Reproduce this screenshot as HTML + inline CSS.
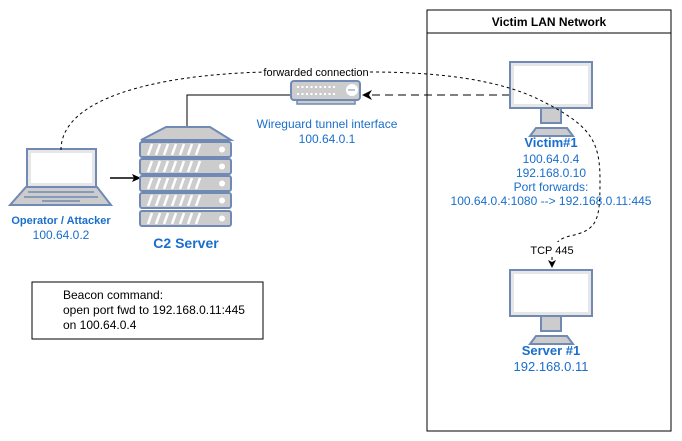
<!DOCTYPE html>
<html><head><meta charset="utf-8"><style>body{margin:0;background:#fff}svg{display:block;font-family:"Liberation Sans",sans-serif}</style></head><body>
<svg width="682" height="441" viewBox="0 0 682 441">
<defs>
<g id="mon"><rect x="0" y="0" width="82" height="46" fill="#e6e6e6" stroke="#7089b5" stroke-width="2"/><rect x="4" y="4" width="74" height="38" fill="#fff"/><rect x="31" y="46" width="20" height="15" fill="#ccc" stroke="#7089b5" stroke-width="2"/><path d="M20 74 L26 66 L57 66 L63 74Z" fill="#ccc" stroke="#7089b5" stroke-width="2"/></g>
<g id="unit"><rect x="0" y="0" width="91" height="15" rx="2" fill="#ccc" stroke="#7089b5" stroke-width="2"/><path d="M8 13 l4 -11 M16 13 l4 -11 M24 13 l4 -11 M32 13 l4 -11 M40 13 l4 -11 M48 13 l4 -11 M56 13 l4 -11" stroke="#fff" stroke-width="2.5"/><circle cx="82" cy="7.5" r="3" fill="#fff"/></g>
</defs>
<rect x="427" y="10" width="244" height="421" fill="#fff" stroke="#000"/>
<line x1="427" y1="33" x2="671" y2="33" stroke="#000"/>
<text x="549" y="26" font-size="12" font-weight="bold" text-anchor="middle">Victim LAN Network</text>
<!-- connectors -->
<path d="M187 128 V95 H290" fill="none" stroke="#000"/>
<path d="M510 95 H368" fill="none" stroke="#000" stroke-dasharray="8 5"/>
<path d="M362 95 l10 -5 l-3 5 l3 5z" fill="#000"/>
<path d="M110 178 H134" stroke="#000" stroke-width="1.5"/><path d="M141 178 l-9 -4 l2 4 l-2 4z" fill="#000"/>
<!-- laptop -->
<rect x="27" y="149" width="69" height="38" fill="#e6e6e6" stroke="#7089b5" stroke-width="2"/><rect x="31" y="153" width="61" height="30" fill="#fff"/>
<path d="M10 205 L26 187 L97 187 L111 205Z" fill="#ccc" stroke="#7089b5" stroke-width="2"/>
<path d="M28 192 H94 M24 197 H98 M42 201 H80" stroke="#7089b5" stroke-width="1.5"/>
<text x="61" y="224" font-size="11" font-weight="bold" fill="#1a6ecc" text-anchor="middle">Operator / Attacker</text>
<text x="61" y="239" font-size="12" fill="#1a6ecc" text-anchor="middle">100.64.0.2</text>
<!-- C2 -->
<path d="M141 140 L166 127 L210 127 L231 140Z" fill="#ccc" stroke="#7089b5" stroke-width="2"/>
<use href="#unit" x="140" y="142"/><use href="#unit" x="140" y="159"/><use href="#unit" x="140" y="176"/><use href="#unit" x="140" y="193"/><use href="#unit" x="140" y="211"/>
<text x="186" y="248" font-size="14" font-weight="bold" fill="#1a6ecc" text-anchor="middle">C2 Server</text>
<!-- wireguard -->
<rect x="297" y="98" width="58" height="6" fill="#ccc" stroke="#7089b5" stroke-width="1.5"/>
<rect x="291" y="81" width="69" height="19" rx="3" fill="#ccc" stroke="#7089b5" stroke-width="2"/>
<path d="M297 87 H337 M297 94 H337" stroke="#fff" stroke-width="2" stroke-dasharray="2 2.5"/>
<circle cx="352" cy="90" r="6" fill="#fff"/><path d="M348 90 H355" stroke="#7089b5"/>
<text x="327" y="128" font-size="12" fill="#1a6ecc" text-anchor="middle">Wireguard tunnel interface</text>
<text x="327" y="143" font-size="12" fill="#1a6ecc" text-anchor="middle">100.64.0.1</text>
<!-- victim -->
<use href="#mon" x="510" y="62"/>
<text x="551" y="147" font-size="13" font-weight="bold" fill="#1a6ecc" text-anchor="middle">Victim#1</text>
<g font-size="12" fill="#1a6ecc" text-anchor="middle"><text x="551" y="163">100.64.0.4</text><text x="551" y="177">192.168.0.10</text><text x="551" y="191">Port forwards:</text><text x="551" y="205">100.64.0.4:1080 --&gt; 192.168.0.11:445</text></g>
<use href="#mon" x="510" y="270"/>
<text x="551" y="355" font-size="13" font-weight="bold" fill="#1a6ecc" text-anchor="middle">Server #1</text>
<text x="551" y="371" font-size="13" fill="#1a6ecc" text-anchor="middle">192.168.0.11</text>
<!-- dotted connection on top -->
<path d="M61 150 C61 100 150 75 265 72 M370 72 C440 72 500 80 540 100 C590 125 600 140 600 180 C600 220 598 230 570 236 C552 240 552 252 552 262" fill="none" stroke="#000" stroke-dasharray="3 3"/>
<path d="M552 268 l-4 -8 l4 2 l4 -2z" fill="#000"/>
<text x="316" y="76" font-size="11" text-anchor="middle">forwarded connection</text>
<rect x="533" y="242" width="40" height="14" fill="#fff"/>
<text x="552" y="254" font-size="11" text-anchor="middle">TCP 445</text>
<!-- beacon -->
<rect x="32" y="282" width="231" height="57" fill="#fff" stroke="#000"/>
<g font-size="12"><text x="63" y="299">Beacon command:</text><text x="63" y="314">open port fwd to 192.168.0.11:445</text><text x="63" y="329">on 100.64.0.4</text></g>
</svg>
</body></html>
